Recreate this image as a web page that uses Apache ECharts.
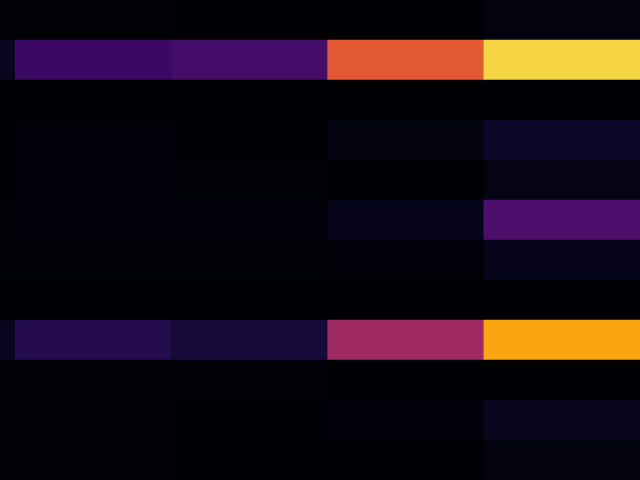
<!DOCTYPE html>
<html>
<head>
<meta charset="utf-8">
<script src="https://cdn.jsdelivr.net/npm/echarts@6/dist/echarts.min.js"></script>
<style>
html,body{margin:0;padding:0;background:#000004;overflow:hidden;width:640px;height:480px;}
#chart{position:absolute;left:-141px;top:0;width:781px;height:480px;}
</style>
</head>
<body>
<div id="chart"></div>
<script>
// categories
var xCats = ['A', 'B', 'C', 'D', 'E'];
var yCats = ['0', '1', '2', '3', '4', '5', '6', '7', '8', '9', '10', '11'];
// values per column (rows top to bottom), scale 0..255
var colA = [2, 14, 0, 0, 1, 2, 2, 0, 14, 2, 2, 2];
var colB = [2, 46, 0, 3, 3, 3, 2, 0, 33, 2, 2, 2];
var colC = [0, 53, 0, 1, 2, 3, 2, 0, 25, 2, 1, 1];
var colD = [0, 159, 0, 6, 0, 11, 3, 0, 110, 0, 4, 0];
var colE = [5, 230, 0, 17, 8, 58, 11, 0, 204, 0, 13, 6];
// inferno colour stops, evenly spaced over 0..255
var inferno = ['#000004', '#0a0722', '#1f0c48', '#390963', '#500e6c', '#67166e',
  '#801f6c', '#982766', '#ae305c', '#c63d4d', '#d94d3e', '#e9612b', '#f3771a',
  '#fa9209', '#fcb114', '#f6ce38', '#f3e45b', '#fcffa4'];

var cols = [colA, colB, colC, colD, colE];
var data = [];
cols.forEach(function (col, x) {
  col.forEach(function (v, y) { data.push([x, y, v]); });
});

var chart = echarts.init(document.getElementById('chart'), null, {renderer: 'canvas'});
chart.setOption({
  backgroundColor: '#000004',
  animation: false,
  grid: {left: 0, right: 0, top: 0, bottom: 0},
  xAxis: {type: 'category', data: xCats, show: false},
  yAxis: {type: 'category', data: yCats, inverse: true, show: false},
  visualMap: {show: false, min: 0, max: 255, calculable: false, inRange: {color: inferno}},
  series: [{
    type: 'heatmap',
    data: data,
    itemStyle: {borderWidth: 0},
    emphasis: {disabled: true}
  }]
});
</script>
</body>
</html>
